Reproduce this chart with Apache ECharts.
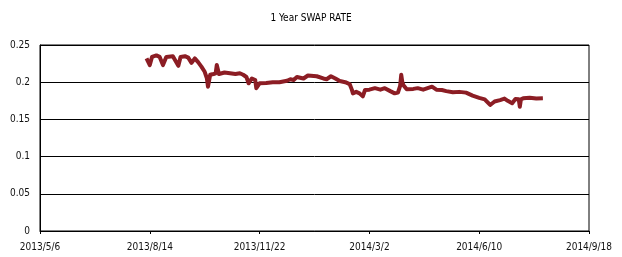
<!DOCTYPE html>
<html>
<head>
<meta charset="utf-8">
<script src="https://cdn.jsdelivr.net/npm/echarts@6/dist/echarts.min.js"></script>
<style>
  html, body { margin: 0; padding: 0; background: #fff; }
  #main { width: 622px; height: 257px; }
</style>
</head>
<body>
<div id="main"></div>
<script>
  // x axis counts days from this date, ticks every 100 days
  const baseDate = Date.UTC(2013, 4, 6);
  const xTicks = [0, 100, 200, 300, 400, 500];

  // days since 2013/5/6
  const dayOffsets = [
    97, 100, 102, 106, 109, 112, 115, 121, 126, 128, 132, 135, 138, 141, 144, 147,
    150, 152, 153, 155, 158, 160, 161, 163, 168, 173, 178, 182, 185, 188, 190, 193,
    196, 197, 200, 206, 212, 218, 225, 228, 231, 234, 240, 244, 252, 258, 261, 265,
    269, 273, 278, 282, 284, 285, 288, 291, 294, 296, 300, 305, 310, 314, 319, 323,
    326, 328, 329, 330, 331, 334, 340, 344, 349, 357, 361, 366, 370, 376, 382, 388,
    394, 400, 405, 410, 414, 419, 423, 426, 430, 433, 436, 437, 438, 440, 446, 452, 458
  ];
  const swapRate = [
    0.232, 0.223, 0.234, 0.236, 0.234, 0.223, 0.234, 0.235, 0.222, 0.234, 0.235, 0.233, 0.226, 0.232, 0.227, 0.221,
    0.214, 0.205, 0.194, 0.210, 0.211, 0.212, 0.223, 0.211, 0.213, 0.212, 0.211, 0.212, 0.210, 0.207, 0.1985, 0.205,
    0.203, 0.192, 0.1985, 0.199, 0.200, 0.200, 0.202, 0.204, 0.203, 0.207, 0.205, 0.209, 0.208, 0.205, 0.204, 0.208,
    0.205, 0.2015, 0.200, 0.1975, 0.190, 0.185, 0.187, 0.185, 0.181, 0.1895, 0.190, 0.192, 0.190, 0.192, 0.188, 0.185,
    0.186, 0.195, 0.210, 0.200, 0.196, 0.1905, 0.191, 0.192, 0.190, 0.194, 0.190, 0.1895, 0.188, 0.1865, 0.187, 0.186,
    0.182, 0.179, 0.177, 0.1694, 0.174, 0.176, 0.178, 0.175, 0.1717, 0.1774, 0.177, 0.167, 0.177, 0.1783, 0.179, 0.178, 0.1783
  ];

  function dayLabel(v) {
    const d = new Date(baseDate + v * 86400000);
    return d.getUTCFullYear() + '/' + (d.getUTCMonth() + 1) + '/' + d.getUTCDate();
  }

  const font = 'DejaVu Sans Condensed, DejaVu Sans, sans-serif';
  const myChart = echarts.init(document.getElementById('main'), null, { renderer: 'canvas' });
  myChart.setOption({
    animation: false,
    backgroundColor: '#fff',
    title: {
      text: '1 Year SWAP RATE',
      left: 'center',
      top: 8,
      textStyle: { fontFamily: font, fontSize: 10, fontWeight: 'normal', color: '#000' }
    },
    grid: {
      left: 40, right: 33, top: 45, bottom: 26,
      show: true, borderColor: '#000', borderWidth: 1
    },
    xAxis: {
      type: 'value',
      min: xTicks[0],
      max: xTicks[xTicks.length - 1],
      interval: 100,
      axisLine: { show: true, onZero: false, lineStyle: { color: '#000', width: 1 } },
      axisTick: { show: true, length: 3, lineStyle: { color: '#000' } },
      splitLine: { show: false },
      axisLabel: {
        formatter: dayLabel, margin: 11,
        fontFamily: font, fontSize: 10, color: '#111',
        showMinLabel: true, showMaxLabel: true
      }
    },
    yAxis: {
      type: 'value',
      min: 0,
      max: 0.25,
      interval: 0.05,
      axisLine: { show: true, lineStyle: { color: '#000', width: 1 } },
      axisTick: { show: false },
      splitLine: { show: true, lineStyle: { color: '#000', width: 1 } },
      axisLabel: { margin: 10, fontFamily: font, fontSize: 10, color: '#111' }
    },
    series: [{
      type: 'line',
      data: dayOffsets.map((d, i) => [d, swapRate[i]]),
      showSymbol: false,
      lineStyle: { color: '#8C1D24', width: 4, join: 'round' }
    }]
  });
</script>
</body>
</html>
